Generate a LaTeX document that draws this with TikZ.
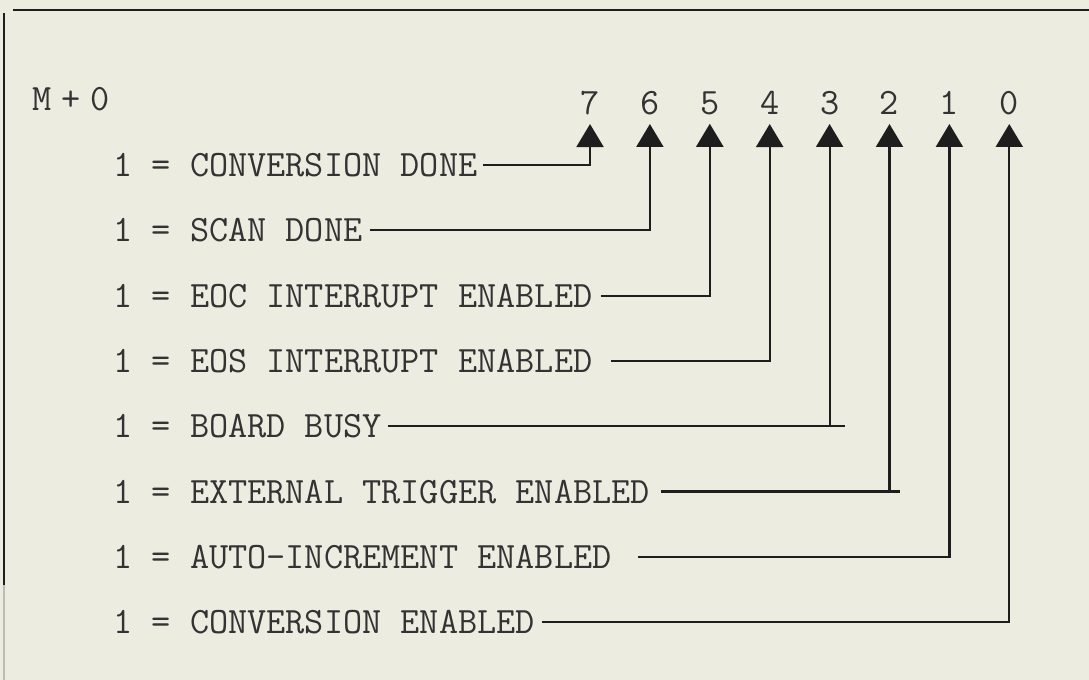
\documentclass[tikz,border=0pt]{standalone}
\definecolor{PaperCream}{HTML}{ECECE1}
\definecolor{InkBlack}{HTML}{1E1E1E}
\definecolor{TypeGray}{HTML}{333333}
\definecolor{FadedRule}{HTML}{BDBDB4}
\usetikzlibrary{arrows.meta}

\begin{document}
\begin{tikzpicture}[x=0.5pt, y=-0.5pt,
    typed/.style={font=\fontsize{18.6}{20}\selectfont\ttfamily, text=TypeGray,
                  inner sep=0pt, text depth=0pt},
    wire/.style={draw=InkBlack, line width=1.1pt},
    bitarrow/.style={wire, -{Triangle[width=13.5pt, length=11.5pt]}}]
  \fill[PaperCream] (0,0) rectangle (1089,680);
  \useasboundingbox (0,0) rectangle (1089,680);
  % open frame, top and left edges only
  \draw[InkBlack, line width=1.3pt] (13,10) -- (1089,10);
  \draw[InkBlack, line width=1pt] (4,13) -- (4,585);
  \draw[FadedRule, line width=1pt] (4,585) -- (4,680);

  \node[typed, anchor=west] (reg) at (32,99) {M\hspace{5pt}+\hspace{5pt}0};
  \foreach \i in {7,...,0}
    \node[typed] (b\i) at ({590+59.9*(7-\i)},103) {\i};

  \foreach \i/\txt/\gap in {7/CONVERSION DONE/5, 6/SCAN DONE/7,
      5/EOC INTERRUPT ENABLED/8, 4/EOS INTERRUPT ENABLED/18,
      3/BOARD BUSY/6, 2/EXTERNAL TRIGGER ENABLED/11,
      1/AUTO-INCREMENT ENABLED/26, 0/CONVERSION ENABLED/7}{
    \node[typed, anchor=west] (l\i) at (113,{165+65.3*(7-\i)}) {1 = \txt};
    \draw[bitarrow] ([xshift=\gap*0.5pt]l\i.east) -| ([yshift=-4.5pt]b\i.south);
  }
  \draw[wire] (b3 |- l3.east) -- ++(15,0);
  \draw[wire] (b2 |- l2.east) -- ++(10,0);
\end{tikzpicture}
\end{document}
